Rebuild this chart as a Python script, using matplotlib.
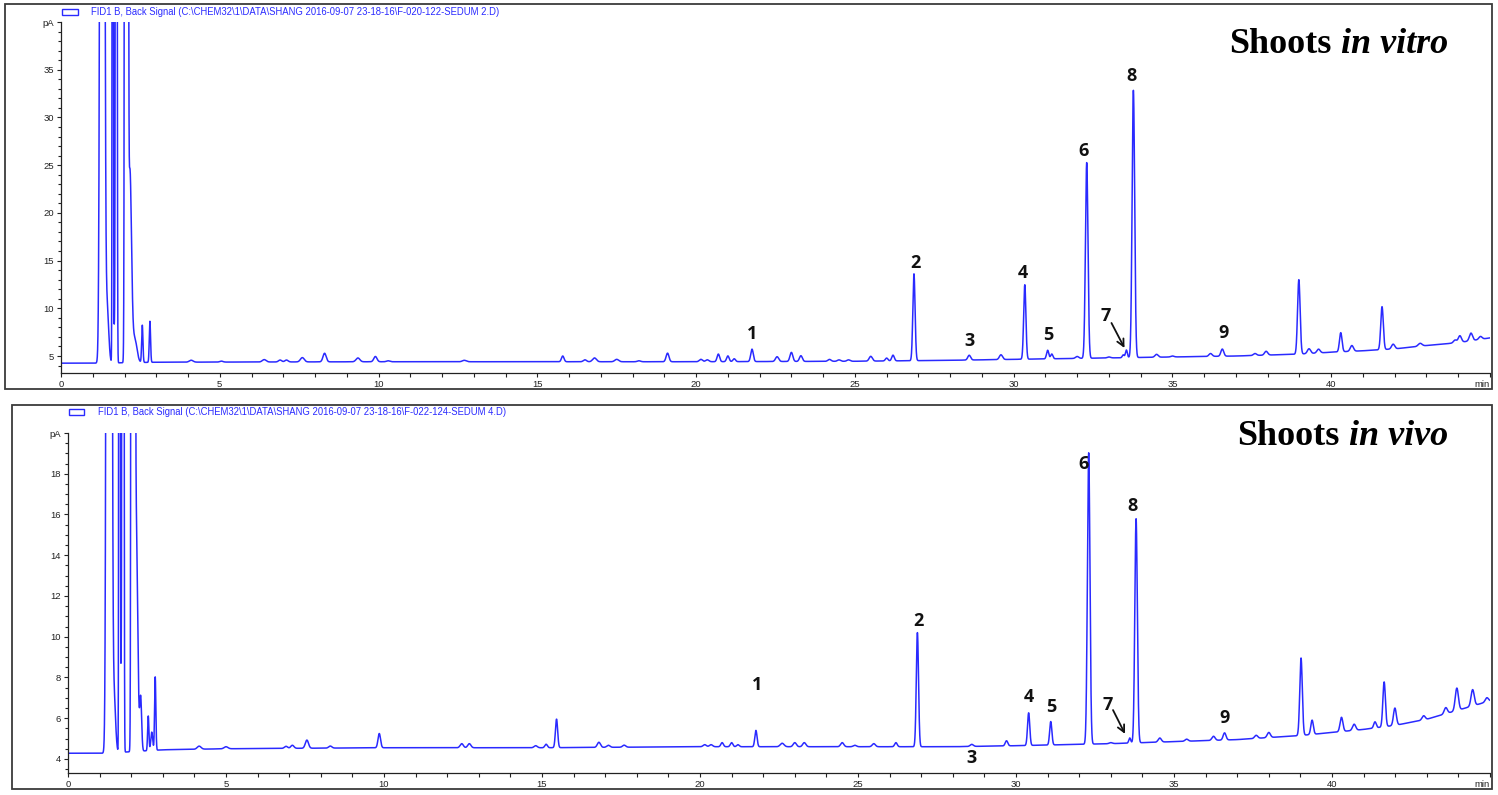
import numpy as np
import matplotlib
matplotlib.use("Agg")
import matplotlib.pyplot as plt
from matplotlib.ticker import MultipleLocator
from matplotlib.patches import Rectangle

# ------------------------------------------------------------------ data
# Shoots in vitro : peak table (retention time [min], height above baseline [pA], sigma [min])
vitro_peak_time = [1.30, 1.45, 1.63, 1.68, 1.74, 2.06, 2.17, 2.32, 2.56, 2.80,
                   4.1, 5.05, 6.4, 6.9, 7.1, 7.6, 8.3, 9.35, 9.9, 10.3,
                   12.7, 15.8, 16.5, 16.8, 17.5, 18.2, 19.1, 20.15, 20.35,
                   20.7, 21.0, 21.2, 21.76, 22.55, 23.0, 23.3, 24.2, 24.5,
                   24.8, 25.5, 26.0, 26.2, 26.86, 28.6, 29.6, 30.35, 31.07,
                   31.2, 32.0, 32.3, 33.0, 33.45, 33.55, 33.77, 34.5, 35.0,
                   36.2, 36.57, 37.6, 37.95, 38.98, 39.3, 39.6, 40.3, 40.65,
                   41.6, 41.95, 42.8, 43.9, 44.05, 44.4, 44.7]
vitro_peak_height = [300, 6.0, 200, 3.5, 300, 2000, 20, 2.5, 3.9, 4.3,
                     0.2, 0.1, 0.25, 0.2, 0.2, 0.45, 0.9, 0.4, 0.55, 0.1,
                     0.15, 0.6, 0.2, 0.4, 0.25, 0.1, 0.9, 0.25, 0.2,
                     0.8, 0.6, 0.3, 1.3, 0.5, 0.95, 0.6, 0.2, 0.15,
                     0.15, 0.5, 0.3, 0.6, 9.1, 0.5, 0.5, 7.8, 0.9,
                     0.5, 0.2, 20.5, 0.1, 0.3, 0.8, 28.0, 0.3, 0.1,
                     0.3, 0.75, 0.2, 0.4, 7.8, 0.5, 0.4, 2.0, 0.6,
                     4.5, 0.5, 0.3, 0.3, 0.7, 0.8, 0.3]
vitro_peak_width = [0.045, 0.05, 0.013, 0.02, 0.017, 0.025, 0.05, 0.07, 0.02, 0.02,
                    0.06, 0.05, 0.06, 0.05, 0.05, 0.06, 0.05, 0.06, 0.05, 0.05,
                    0.06, 0.04, 0.05, 0.06, 0.06, 0.05, 0.045, 0.05, 0.05,
                    0.04, 0.04, 0.04, 0.04, 0.05, 0.045, 0.045, 0.05, 0.05,
                    0.05, 0.05, 0.04, 0.04, 0.035, 0.045, 0.05, 0.035, 0.035,
                    0.035, 0.05, 0.04, 0.05, 0.03, 0.03, 0.04, 0.05, 0.05,
                    0.05, 0.045, 0.05, 0.05, 0.04, 0.05, 0.05, 0.04, 0.05,
                    0.04, 0.05, 0.06, 0.05, 0.05, 0.05, 0.05]
vitro_base_time = [0, 1.2, 3, 10, 20, 25, 28, 30, 33, 35, 37, 38, 39, 40, 41, 42, 43, 44, 45]
vitro_base_level = [4.25, 4.25, 4.35, 4.4, 4.4, 4.45, 4.55, 4.65, 4.8, 4.9, 5.0,
                    5.1, 5.2, 5.4, 5.55, 5.75, 6.1, 6.4, 6.9]
vitro_label_text = ["1", "2", "3", "4", "5", "6", "7", "8", "9"]
vitro_label_time = [21.76, 26.9, 28.6, 30.3, 31.1, 32.2, 32.9, 33.7, 36.6]
vitro_label_level = [7.3, 14.7, 6.6, 13.7, 7.2, 26.5, 9.2, 34.3, 7.4]
vitro_arrow = [(33.08, 8.46), (33.49, 5.84)]
vitro_yticks = [5, 10, 15, 20, 25, 30, 35]

# Shoots in vivo
vivo_peak_time = [1.30, 1.45, 1.63, 1.68, 1.74, 2.06, 2.15, 2.30, 2.54, 2.65, 2.76,
                  4.15, 5.0, 6.9, 7.1, 7.56, 8.3, 9.85, 12.46, 12.7, 14.8,
                  15.13, 15.46, 16.8, 17.1, 17.6, 20.15, 20.35, 20.7, 21.0,
                  21.2, 21.77, 22.6, 23.0, 23.3, 24.5, 24.9, 25.5, 26.2,
                  26.88, 28.6, 29.7, 30.4, 31.1, 32.3, 33.0, 33.6, 33.8,
                  34.55, 35.4, 36.25, 36.6, 37.6, 38.0, 39.02, 39.37, 40.3,
                  40.7, 41.36, 41.65, 41.99, 42.9, 43.6, 43.95, 44.45, 44.9]
vivo_peak_height = [300, 3.0, 200, 3.8, 300, 2000, 12, 2.6, 1.7, 0.9, 3.6,
                    0.15, 0.1, 0.1, 0.15, 0.4, 0.1, 0.7, 0.2, 0.2, 0.1,
                    0.17, 1.4, 0.25, 0.1, 0.1, 0.1, 0.1, 0.2, 0.2,
                    0.1, 0.8, 0.17, 0.2, 0.2, 0.2, 0.07, 0.15, 0.2,
                    5.6, 0.1, 0.25, 1.6, 1.15, 14.3, 0.05, 0.25, 11.0,
                    0.2, 0.1, 0.2, 0.35, 0.15, 0.25, 3.8, 0.7, 0.7,
                    0.3, 0.3, 2.2, 0.85, 0.2, 0.3, 1.1, 0.8, 0.2]
vivo_peak_width = [0.045, 0.05, 0.013, 0.02, 0.017, 0.025, 0.05, 0.03, 0.02, 0.03, 0.02,
                   0.06, 0.06, 0.05, 0.05, 0.05, 0.05, 0.04, 0.05, 0.05, 0.05,
                   0.04, 0.035, 0.05, 0.05, 0.05, 0.05, 0.05, 0.04, 0.04,
                   0.04, 0.035, 0.06, 0.05, 0.05, 0.05, 0.05, 0.05, 0.04,
                   0.035, 0.05, 0.04, 0.035, 0.035, 0.04, 0.05, 0.03, 0.04,
                   0.05, 0.05, 0.05, 0.045, 0.05, 0.05, 0.04, 0.04, 0.045,
                   0.05, 0.04, 0.04, 0.045, 0.05, 0.05, 0.05, 0.05, 0.05]
vivo_base_time = [0, 1.2, 3, 5, 10, 15, 20, 25, 28, 30, 33, 35, 37, 38, 39, 40, 41, 42, 43, 44, 45]
vivo_base_level = [4.28, 4.28, 4.45, 4.5, 4.55, 4.55, 4.6, 4.6, 4.6, 4.65, 4.75, 4.85,
                   4.95, 5.05, 5.15, 5.3, 5.45, 5.65, 5.95, 6.4, 6.85]
vivo_label_text = ["1", "2", "3", "4", "5", "6", "7", "8", "9"]
vivo_label_time = [21.8, 26.9, 28.6, 30.4, 31.1, 32.15, 32.9, 33.7, 36.6]
vivo_label_level = [7.63, 10.76, 4.05, 7.04, 6.55, 18.46, 6.65, 16.4, 6.0]
vivo_arrow = [(33.07, 6.4), (33.45, 5.23)]
vivo_yticks = [4, 6, 8, 10, 12, 14, 16, 18]

x_labeled = [0, 5, 10, 15, 20, 25, 30, 35, 40]
header_vitro = "FID1 B, Back Signal (C:\\CHEM32\\1\\DATA\\SHANG 2016-09-07 23-18-16\\F-020-122-SEDUM 2.D)"
header_vivo = "FID1 B, Back Signal (C:\\CHEM32\\1\\DATA\\SHANG 2016-09-07 23-18-16\\F-022-124-SEDUM 4.D)"
title_vitro = ("Shoots", "in vitro")
title_vivo = ("Shoots", "in vivo")

# ------------------------------------------------------------------ figure
W, H = 1498, 795
fig = plt.figure(figsize=(W / 100, H / 100), dpi=100)
fig.patch.set_facecolor("white")

LINE = "#2a2aff"
TICKFONT = "Liberation Sans"


def fig_rect(x0, y0, x1, y1):
    return [x0 / W, 1 - y1 / H, (x1 - x0) / W, (y1 - y0) / H]


def trace(ptime, pheight, pwidth, btime, blevel):
    t = np.linspace(0, 45, 18001)
    y = np.interp(t, btime, blevel)
    for c, h, s in zip(ptime, pheight, pwidth):
        y = y + h * np.exp(-0.5 * ((t - c) / s) ** 2)
    return t, y


def panel(frame, axbox, ylim, yticks, yminor, data, labels, arrow,
          header, header_box, title, title_right, title_base):
    fx0, fy0, fx1, fy1 = frame
    fig.add_artist(Rectangle((fx0 / W, 1 - fy1 / H), (fx1 - fx0) / W, (fy1 - fy0) / H,
                             transform=fig.transFigure, fill=False,
                             ec="#3a3a3a", lw=1.3, zorder=5))
    ax = fig.add_axes(fig_rect(*axbox))
    t, y = trace(*data)
    ax.plot(t, y, color=LINE, lw=1.1)
    ax.set_xlim(0, 45)
    ax.set_ylim(*ylim)
    for s in ("top", "right"):
        ax.spines[s].set_visible(False)
    for s in ("left", "bottom"):
        ax.spines[s].set_linewidth(0.9)
        ax.spines[s].set_color("#222222")
    ax.patch.set_alpha(0)

    xt = list(range(0, 46))
    xl = [str(v) if v in x_labeled else "" for v in xt]
    xl[-1] = "min"
    ax.set_xticks(xt, labels=xl)
    ax.get_xticklabels()[-1].set_horizontalalignment("right")
    yt = list(yticks) + [ylim[1]]
    ax.set_yticks(yt, labels=[str(v) for v in yticks] + ["pA"])
    ax.yaxis.set_minor_locator(MultipleLocator(yminor))
    ax.tick_params(axis="both", which="major", direction="out", length=3.2,
                   width=0.8, color="#222222", labelsize=6.8, pad=2,
                   labelcolor="#222222")
    ax.tick_params(axis="y", which="minor", direction="out", length=2.0,
                   width=0.8, color="#222222")
    ax.tick_params(axis="x", which="major", length=3.0)
    for lab in ax.get_xticklabels() + ax.get_yticklabels():
        lab.set_fontfamily(TICKFONT)

    for s, xv, yv in zip(*labels):
        ax.text(xv, yv, s, ha="center", va="center", fontsize=13,
                fontweight="bold", family="Open Sans", color="#111111")
    ax.annotate("", xy=arrow[1], xytext=arrow[0],
                arrowprops=dict(arrowstyle="->,head_length=0.5,head_width=0.25",
                                color="#111111", lw=1.3, shrinkA=0, shrinkB=0))

    rx0, ry0, rx1, ry1, tx, ty, tw = header_box
    fig.add_artist(Rectangle((rx0 / W, 1 - ry1 / H), (rx1 - rx0) / W, (ry1 - ry0) / H,
                             transform=fig.transFigure, fill=False, ec=LINE, lw=1.0))
    ht = fig.text(tx / W, 1 - ty / H, header, ha="left", va="center",
                  fontsize=6.5, color=LINE, family=TICKFONT)
    fig.canvas.draw()
    w = ht.get_window_extent().width
    ht.set_fontsize(6.5 * tw / w)

    t2 = fig.text(title_right / W, 1 - title_base / H, title[1], ha="right",
                  va="baseline", fontsize=26, family="Liberation Serif",
                  fontweight="bold", fontstyle="italic", color="black")
    fig.canvas.draw()
    bb = t2.get_window_extent()
    fig.text((bb.x0 - 9) / W, 1 - title_base / H, title[0], ha="right",
             va="baseline", fontsize=26, family="Liberation Serif",
             fontweight="bold", color="black")
    return ax


panel(frame=(5, 4, 1492, 389), axbox=(61, 22, 1490, 373), ylim=(3.22, 40.0),
      yticks=vitro_yticks, yminor=1,
      data=(vitro_peak_time, vitro_peak_height, vitro_peak_width,
            vitro_base_time, vitro_base_level),
      labels=(vitro_label_text, vitro_label_time, vitro_label_level),
      arrow=vitro_arrow, header=header_vitro,
      header_box=(62, 9, 78, 15, 91, 12, 410),
      title=title_vitro, title_right=1448, title_base=53)

panel(frame=(12, 405, 1492, 789), axbox=(68, 433, 1490, 773), ylim=(3.31, 20.0),
      yticks=vivo_yticks, yminor=0.5,
      data=(vivo_peak_time, vivo_peak_height, vivo_peak_width,
            vivo_base_time, vivo_base_level),
      labels=(vivo_label_text, vivo_label_time, vivo_label_level),
      arrow=vivo_arrow, header=header_vivo,
      header_box=(69, 409, 84, 415, 98, 412, 410),
      title=title_vivo, title_right=1448, title_base=445)

fig.savefig("out.png", dpi=100, facecolor="white")
